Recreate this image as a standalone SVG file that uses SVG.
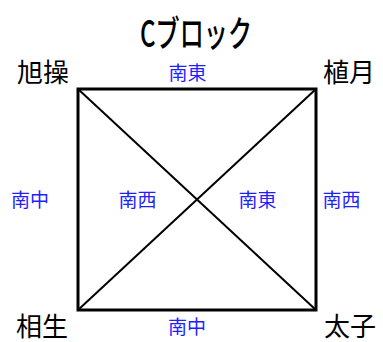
<svg xmlns="http://www.w3.org/2000/svg" width="383" height="342" viewBox="0 0 383 342">
<style>
.corner{font-family:"Noto Sans CJK JP","Noto Sans",sans-serif;font-size:26px;fill:#000;text-anchor:middle}
.lbl{font-family:"Noto Sans CJK JP","Noto Sans",sans-serif;font-size:19px;fill:#1f1fff;text-anchor:middle}
.title{font-family:"Noto Sans CJK JP","Noto Sans",sans-serif;font-size:36px;font-weight:500;fill:#000}
</style>
<rect width="383" height="342" fill="#fff"/>
<text class="title" x="140" y="47" textLength="112" lengthAdjust="spacingAndGlyphs">Cブロック</text>
<g id="connectors" stroke="#000" fill="none">
<line x1="78" y1="89" x2="316" y2="310" stroke-width="2"/>
<line x1="316" y1="89" x2="78" y2="310" stroke-width="2"/>
<rect x="78" y="89" width="238" height="221" stroke-width="3"/>
</g>
<g id="node-kyokusou"><text class="corner" x="43" y="82">旭操</text></g>
<g id="node-uetsuki"><text class="corner" x="349" y="82">植月</text></g>
<g id="node-aioi"><text class="corner" x="42" y="336">相生</text></g>
<g id="node-taishi"><text class="corner" x="350" y="336">太子</text></g>
<g id="labels">
<text class="lbl" x="187.5" y="80">南東</text>
<text class="lbl" x="30" y="207">南中</text>
<text class="lbl" x="137.5" y="207">南西</text>
<text class="lbl" x="257.5" y="207">南東</text>
<text class="lbl" x="341.5" y="207">南西</text>
<text class="lbl" x="187" y="334">南中</text>
</g>
</svg>
